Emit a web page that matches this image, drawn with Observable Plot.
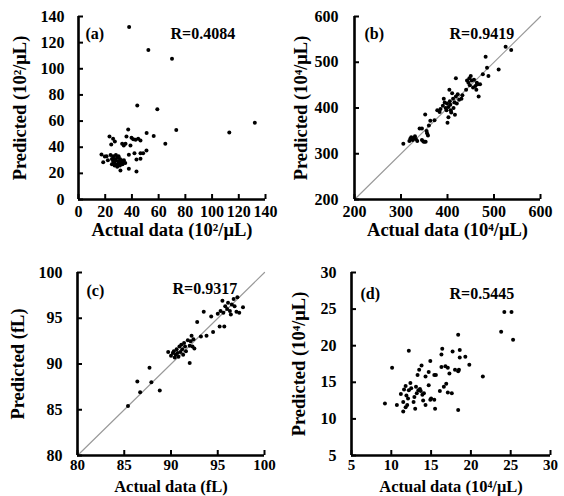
<!DOCTYPE html>
<html><head><meta charset="utf-8">
<script src="https://cdn.jsdelivr.net/npm/d3@7"></script>
<script src="https://cdn.jsdelivr.net/npm/@observablehq/plot@0.6"></script>
<style>
body{margin:0;background:#fff;}
#wrap{position:relative;width:564px;height:496px;overflow:hidden;background:#fff;}
.p{position:absolute;}
</style></head><body><div id="wrap"></div>
<script>
// Panel (a): actual vs predicted (10^2/uL)
const panelA = [
[37.9,132],[52.3,114.3],[70,107.7],[44,71.9],[59,69],[132,58.7],[112.9,51.3],[73.2,53.1],[65,42.7],[56.3,48.5],[51,50.8],[37.2,53.6],
[23.2,48.2],[35.9,48.2],[39.7,47.2],[42.7,45.7],[44.7,46.4],[46.4,45.1],[41,46],[27.2,44.4],[32.7,42.6],[33.9,41.3],[35.2,42.6],[38.9,41.3],[24.5,42.1],[25.9,46.5],[50.9,37.5],[48.4,35.4],[41.9,35.4],[46.4,35.4],[37.7,34.2],[17.2,34.4],[19.7,32.9],[43.4,30.6],[46.4,31.1],[31.4,22.2],[37.7,23.5],[43.4,21.4],[18.5,28.5],
[26,33],[27,31],[28,30],[29,32],[30,29],[31,31],[32,28],[28,27],[27,28],[29,26],[30,27],[31,26],[33,29],[34,30],[33,27],[26,29],[25,31],[24,34],[28,34],[30,33],[32,30],[27,26],[29,25],[31,28],[35,28],[22,30],[21,33],[25,27]
];
// Panel (b): (10^4/uL)
const panelB = [
[305,322],[318,328],[320,333],[322,336],[325,330],[328,334],[330,338],[332,332],[335,328],[340,355],[345,355],[345,330],[348,327],[350,326],[352,386],[353,326],[355,350],[356,345],[358,340],[360,362],[363,372],[372,373],[378,395],[383,391],[385,398],[390,405],[392,420],[394,412],[396,400],[398,395],[399,410],[400,368],[402,380],[402,402],[404,440],[405,415],[406,407],[407,395],[408,390],[410,432],[412,420],[413,400],[415,412],[416,385],[418,465],[418,425],[420,410],[422,430],[425,418],[430,420],[432,428],[440,440],[442,460],[445,455],[447,465],[448,450],[450,470],[452,460],[455,445],[457,462],[460,448],[462,440],[463,455],[465,452],[467,425],[470,452],[476,474],[482,512],[485,488],[488,470],[510,484],[525,534],[537,527]
];
// Panel (c): (fL)
const panelC = [
[85.4,85.4],[86.4,88.1],[86.7,86.9],[87.7,89.6],[87.9,88.0],[88.8,87.1],
[89.7,91.3],[90,90.9],[90.2,91.2],[90.3,91.4],[90.4,90.7],[90.5,91.0],[90.6,91.6],[90.7,91.2],[90.8,90.8],[90.9,91.9],[91,91.3],[91.1,92.1],[91.2,91.6],[91.3,91.0],[91.4,92.3],[91.5,91.9],[91.6,91.4],[91.8,92.6],[92,90.1],[92,92.0],[92.1,92.5],[92.2,93.1],[92.3,91.9],[92.4,92.7],[92.5,91.7],[92.8,94.6],[93.2,93.0],[93.5,95.7],[93.8,93.1],[94.3,95.2],[94.5,93.5],[95.2,94.1],[95.3,95.8],[95.5,96.9],[95.7,94.1],[95.8,96.3],[96,96.0],[96.1,96.7],[96.3,95.8],[96.5,96.5],[96.7,97.1],[96.8,96.3],[97,95.7],[97.1,97.3],[97.3,95.6],[97.7,96.2],[95.6,95.6],[96.4,95.4],[95,95.5]
];
// Panel (d): (10^4/uL)
const panelD = [
[9.2,12.1],[10.1,17],[12.2,19.3],[10.7,11.9],[11.5,11],[11.8,11.6],[12,11.9],[11.5,12.3],[11.9,13.2],[12.2,13.9],[11.8,14.5],[12.4,14.9],[11.2,13.4],[13,11.4],[12.8,12.3],[13.2,13.5],[13.4,13.9],[13.1,14.4],[13.6,14.1],[14.1,13.5],[14,12.5],[14.3,11.9],[13.3,16],[13.5,16.7],[13.8,17.3],[14.3,15.8],[14.7,16.4],[14.9,17.9],[15.4,16],[15.6,16],[14.7,14.6],[15,12.8],[14.9,12.6],[15.4,12.6],[15.5,11.4],[16.3,17.1],[16.3,18.8],[16.4,19.6],[16.8,17.2],[17.1,17],[17.3,16.2],[16.1,13.8],[16.6,14.4],[16.9,14.8],[17.1,13.6],[17.6,13.5],[17.7,19.2],[18.6,19.4],[18.6,18.4],[18,16.7],[18.4,16.5],[18.5,16.7],[19.3,18.5],[19.8,17.4],[18.4,11.2],[21.5,15.8],[23.8,21.9],[24.2,24.6],[25.1,24.6],[25.3,20.8],[18.4,21.5],[12.5,14.2],[12.9,13],[13.9,13.3],[12.1,12.8],[11.6,14],[13.7,13.8]
];

const ticksA = [0,20,40,60,80,100,120,140];
const ticksB = [200,300,400,500,600];
const ticksC = [80,85,90,95,100];
const ticksD = [5,10,15,20,25,30];

const letters = ["(a)","(b)","(c)","(d)"];
const rLabels = ["R=0.4084","R=0.9419","R=0.9317","R=0.5445"];
const xLabels = ["Actual data (10\u00B2/\u03BCL)","Actual data (10\u2074/\u03BCL)","Actual data (fL)","Actual data (10\u2074/\u03BCL)"];
const yLabels = ["Predicted (10\u00B2/\u03BCL)","Predicted (10\u2074/\u03BCL)","Predicted (fL)","Predicted (10\u2074/\u03BCL)"];

const FONT = "'Liberation Serif','Times New Roman',serif";

function makePanel(cfg){
  const t = cfg.ticks;
  const d0 = t[0], d1 = t[t.length-1];
  const marks = [];
  if (cfg.diag) marks.push(Plot.line(t.filter((v,i)=>i===0||i===t.length-1), {x:d=>d, y:d=>d, stroke:"#9a9a9a", strokeWidth:1.2}));
  marks.push(Plot.dot(cfg.data, {x:d=>d[0], y:d=>d[1], r:2, fill:"#000", stroke:null}));
  // axis lines
  marks.push(Plot.ruleX([d0], {stroke:"#000", strokeWidth:2.6}));
  marks.push(Plot.ruleY([d0], {stroke:"#000", strokeWidth:2.6}));
  // inward ticks
  marks.push(Plot.axisX(t, {tickSize:5, dy:-5, tickFormat:()=>"", label:null, strokeWidth:2}));
  marks.push(Plot.axisY(t, {tickSize:5, dx:5, tickFormat:()=>"", label:null, strokeWidth:2}));
  // tick labels
  marks.push(Plot.axisX(t, {tickSize:0, tickPadding:cfg.xPad, label:null, fontSize:cfg.xFont, fontWeight:"bold"}));
  marks.push(Plot.axisY(t, {tickSize:0, tickPadding:cfg.yPad, label:null, fontSize:16, fontWeight:"bold"}));
  // axis titles
  marks.push(Plot.text([cfg.xLabel], {frameAnchor:"bottom", dy:cfg.xLabelDy, fontSize:cfg.xLabelFont, fontWeight:"bold", textAnchor:"middle", lineAnchor:"middle", fill:"#000"}));
  marks.push(Plot.text([cfg.yLabel], {frameAnchor:"left", dx:cfg.yLabelDx, rotate:-90, fontSize:18.5, fontWeight:"bold", textAnchor:"middle", lineAnchor:"middle", fill:"#000"}));
  // annotations
  marks.push(Plot.text([cfg.letter], {frameAnchor:"top-left", dx:cfg.letterDx, dy:cfg.letterDy, textAnchor:"start", lineAnchor:"middle", fontSize:16, fontWeight:"bold", fill:"#000"}));
  marks.push(Plot.text([cfg.r], {frameAnchor:"top-left", dx:cfg.rDx, dy:cfg.rDy, textAnchor:"start", lineAnchor:"middle", fontSize:16, fontWeight:"bold", fill:"#000"}));
  const svg = Plot.plot({
    width:282, height:248,
    marginLeft:cfg.m[0], marginRight:cfg.m[1], marginTop:cfg.m[2], marginBottom:cfg.m[3],
    x:{domain:[d0,d1], nice:false},
    y:{domain:[d0,d1], nice:false},
    style:{fontFamily:FONT, fontWeight:"bold", color:"#000", background:"transparent", overflow:"visible"},
    marks
  });
  const div = document.createElement("div");
  div.className = "p";
  div.style.left = cfg.pos[0]+"px";
  div.style.top = cfg.pos[1]+"px";
  div.appendChild(svg);
  document.getElementById("wrap").appendChild(div);
}

makePanel({data:panelA, ticks:ticksA, diag:false, pos:[0,0], m:[78,17,16,49], xPad:6, xFont:16, yPad:14, xLabelDy:31, xLabelFont:18.5, yLabelDx:-58,
  xLabel:xLabels[0], yLabel:yLabels[0], letter:letters[0], r:rLabels[0], letterDx:7, letterDy:17, rDx:92, rDy:17});
makePanel({data:panelB, ticks:ticksB, diag:true, pos:[282,0], m:[72,24,16,49], xPad:6, xFont:16, yPad:16, xLabelDy:31, xLabelFont:18.5, yLabelDx:-53,
  xLabel:xLabels[1], yLabel:yLabels[1], letter:letters[1], r:rLabels[1], letterDx:10, letterDy:17, rDx:95, rDy:17});
makePanel({data:panelC, ticks:ticksC, diag:true, pos:[0,248], m:[77,18,24,41], xPad:4, xFont:15, yPad:15, xLabelDy:31, xLabelFont:16.5, yLabelDx:-59,
  xLabel:xLabels[2], yLabel:yLabels[2], letter:letters[2], r:rLabels[2], letterDx:9, letterDy:18, rDx:95, rDy:16});
makePanel({data:panelD, ticks:ticksD, diag:false, pos:[282,248], m:[69,14,24,41], xPad:4, xFont:15, yPad:15, xLabelDy:31, xLabelFont:16.5, yLabelDx:-52,
  xLabel:xLabels[3], yLabel:yLabels[3], letter:letters[3], r:rLabels[3], letterDx:9, letterDy:21, rDx:98, rDy:21});
</script></body></html>
